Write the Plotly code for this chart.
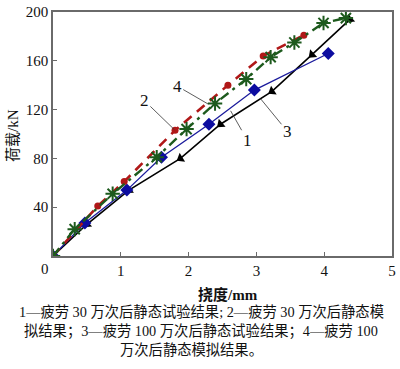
import plotly.graph_objects as go

# Curve 1: 疲劳30万次后静态试验结果 (blue, diamonds)
x1 = [0, 0.47, 1.09, 1.60, 2.30, 2.97, 4.06]
y1 = [0, 27, 54, 81, 108, 136, 166]
# Curve 2: 疲劳30万次后静态模拟结果 (red dashed, dots)
x2 = [0, 0.66, 1.05, 1.80, 2.58, 3.10, 3.70]
y2 = [0, 41, 61, 103, 140, 164, 181]
# Curve 3: 疲劳100万次后静态试验结果 (black, triangles)
x3 = [0, 0.50, 1.12, 1.88, 2.47, 3.23, 3.82, 4.38]
y3 = [0, 26, 54, 80, 108, 135, 165, 194]
# Curve 4: 疲劳100万次后静态模拟结果 (green dash-dot, asterisks)
x4 = [0, 0.32, 0.88, 1.53, 1.97, 2.39, 2.85, 3.21, 3.56, 3.99, 4.32]
y4 = [0, 22, 51, 81, 104, 125, 145, 163, 175, 191, 195]

x_ticks = [1, 2, 3, 4, 5]
y_ticks = [40, 80, 120, 160, 200]

caption_lines = [
    "1—疲劳 30 万次后静态试验结果; 2—疲劳 30 万次后静态模",
    "拟结果；3—疲劳 100 万次后静态试验结果；4—疲劳 100",
    "万次后静态模拟结果。",
]

FONT = "Liberation Serif, 'Times New Roman', 'Noto Sans CJK SC', serif"
AX = "#6a6a6a"
W, H = 400, 369
ML, MR, MT, MB = 53, 4, 7, 113
PW, PH = W - ML - MR, H - MT - MB


def px_x(p):
    return (p - ML) / PW


def px_y(p):
    return (H - MB - p) / PH


fig = go.Figure()
fig.add_trace(go.Scatter(x=x3, y=y3, mode="lines+markers",
                         line=dict(color="#000000", width=1.6),
                         marker=dict(symbol="triangle-up", size=9, color="#000000",
                                     angleref="previous", angle=180)))
fig.add_trace(go.Scatter(x=x1, y=y1, mode="lines+markers",
                         line=dict(color="#1a1a9c", width=1.3),
                         marker=dict(symbol="diamond", size=10, color="#0c0ca0")))
fig.add_trace(go.Scatter(x=x2, y=y2, mode="lines+markers",
                         line=dict(color="#b01818", width=2.6, dash="10px,7px"),
                         marker=dict(symbol="circle", size=7, color="#b01818")))
fig.add_trace(go.Scatter(x=x4, y=y4, mode="lines+markers",
                         line=dict(color="#1d5a1d", width=2.4, dash="10px,5px,3px,5px"),
                         marker=dict(symbol="asterisk-open", size=12,
                                     line=dict(color="#1d5a1d", width=2))))

labels = [("1", 2.62, 119, 17, 30), ("2", 1.79, 103.6, -30, -29),
          ("3", 3.06, 129, 27, 33), ("4", 2.29, 124.5, -31, -18)]
for t, xx, yy, ax, ay in labels:
    fig.add_annotation(x=xx, y=yy, text=t, showarrow=True, arrowhead=0,
                       arrowwidth=0.8, arrowcolor="#333333", ax=ax, ay=ay,
                       font=dict(family=FONT, size=17, color="#111111"))

fig.add_annotation(x=0, y=0, text="0", showarrow=False, xshift=-8, yshift=-13,
                   font=dict(family=FONT, size=15, color="#111111"))

fig.add_annotation(xref="paper", yref="paper", x=px_x(13), y=px_y(133), text="荷载/kN",
                   textangle=-90, showarrow=False, xanchor="center", yanchor="middle",
                   font=dict(family=FONT, size=15, color="#111111"))
fig.add_annotation(xref="paper", yref="paper", x=px_x(230), y=px_y(295),
                   text="<b>挠度/mm</b>", showarrow=False, xanchor="center",
                   yanchor="middle",
                   font=dict(family=FONT, size=15, color="#111111"))

cap_pos = [(203, 313), (203, 333), (193, 352)]
for line, (cx, cy) in zip(caption_lines, cap_pos):
    fig.add_annotation(xref="paper", yref="paper", x=px_x(cx), y=px_y(cy),
                       text=line, showarrow=False,
                       yanchor="middle", xanchor="center",
                       font=dict(family=FONT, size=14.3, color="#111111"))

fig.update_layout(
    width=W, height=H,
    margin=dict(l=ML, r=MR, t=MT, b=MB),
    paper_bgcolor="white", plot_bgcolor="white",
    showlegend=False,
    font=dict(family=FONT, size=15, color="#111111"),
)
fig.update_xaxes(range=[0, 5], tickvals=x_ticks, ticks="inside", ticklen=4,
                 tickcolor=AX, showline=True, linecolor=AX, linewidth=1.5,
                 mirror=True, showgrid=False, zeroline=False,
                 ticklabeloverflow="allow",
                 tickfont=dict(family=FONT, size=15, color="#111111"))
fig.update_yaxes(range=[0, 200], tickvals=y_ticks, ticks="inside", ticklen=4,
                 tickcolor=AX, showline=True, linecolor=AX, linewidth=1.5,
                 mirror=True, showgrid=False, zeroline=False,
                 ticklabeloverflow="allow",
                 tickfont=dict(family=FONT, size=15, color="#111111"))

fig.write_html("out.html", config={"displayModeBar": False},
               post_script="document.body.style.margin='0px';document.body.style.padding='0px';")
